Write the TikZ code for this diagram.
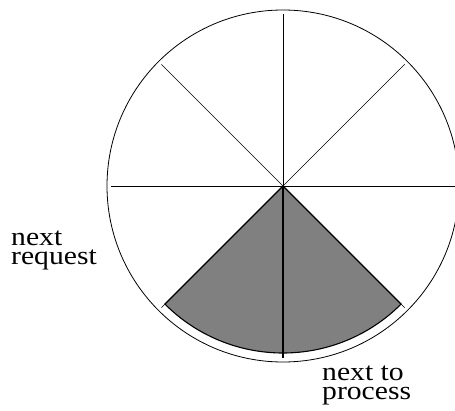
\documentclass[tikz,border=0pt]{standalone}
\usepackage{fontspec}
\setmainfont[FakeStretch=1.14]{Liberation Serif}
\begin{document}
\begin{tikzpicture}[x=1pt,y=1pt,
  rim/.style={line width=0.8pt},
  spoke/.style={line width=0.7pt},
  slice/.style={fill=black!50, draw=black, line width=1.1pt},
  tag/.style={inner sep=0pt, align=left, font=\fontsize{26}{18.6}\selectfont}]
  \useasboundingbox (0,0) rectangle (455,410);
  \clip (0,0) rectangle (455,410);
  \coordinate (c) at (283,224);
  % shaded slice between the two lower diagonals
  \filldraw[slice] (c) -- ++(225:167) arc[start angle=225, end angle=315, radius=167] -- cycle;
  % the eight spokes
  \foreach \a in {0,45,...,315}
    \draw[spoke] (c) -- ++(\a:172);
  \draw[line width=1.2pt] (c) -- ++(270:172);
  % outer rim
  \draw[rim] (c) circle[radius=176];
  % labels (base anchor sits on the last line)
  \node[tag, anchor=base west] (req) at (11,145.7) {next\\request};
  \node[tag, anchor=base west] (proc) at (322,10.7) {next to\\process};
\end{tikzpicture}
\end{document}
